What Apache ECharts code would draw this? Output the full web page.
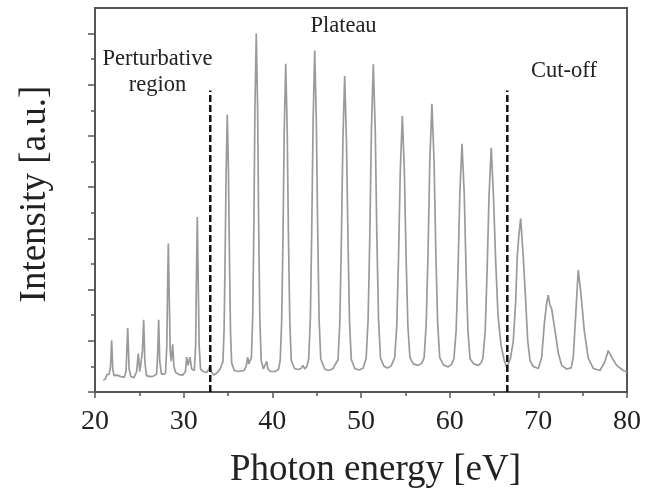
<!DOCTYPE html>
<html>
<head>
<meta charset="utf-8">
<script src="https://cdn.jsdelivr.net/npm/echarts@6/dist/echarts.min.js"></script>
<style>
html,body{margin:0;padding:0;background:#fff;}
#chart{width:646px;height:497px;}
</style>
</head>
<body>
<div id="chart"></div>
<script>
// Photon energy [eV] sampled along the trace
var energy = [
20.94,21.2,21.35,21.6,21.75,21.88,22.0,22.15,22.5,22.9,23.3,23.5,23.69,23.85,24.05,24.4,24.7,24.88,25.05,25.2,25.35,25.49,25.62,25.8,26.2,26.6,26.95,27.08,27.18,27.3,27.5,27.95,28.1,28.2,28.27,28.35,28.48,28.6,28.76,28.9,29.1,29.5,29.9,30.2,30.34,30.5,30.71,30.9,31.2,31.35,31.45,31.54,31.63,31.75,31.9,32.2,32.6,32.85,32.95,33.1,33.4,33.8,34.1,
34.43,34.56,34.67,34.79,34.92,35.05,35.17,35.28,35.41,35.7,36.2,36.8,37.05,37.22,37.35,
37.64,37.79,37.92,38.04,38.19,38.34,38.46,38.59,38.74,39.0,39.2,39.36,39.5,39.8,40.3,40.7,
40.89,41.05,41.20,41.34,41.51,41.68,41.82,41.97,42.13,42.5,42.9,43.25,43.45,43.65,43.9,
44.10,44.29,44.44,44.60,44.78,44.96,45.12,45.27,45.46,45.9,46.3,46.8,
47.41,47.61,47.78,47.96,48.16,48.36,48.54,48.71,48.91,49.3,49.8,50.25,
50.58,50.80,50.99,51.17,51.39,51.61,51.79,51.98,52.20,52.6,53.0,53.4,
53.80,54.03,54.23,54.43,54.66,54.89,55.09,55.29,55.52,55.9,56.45,56.85,
57.12,57.35,57.56,57.76,58.0,58.24,58.44,58.65,58.88,59.3,59.85,60.2,
60.48,60.73,60.94,61.15,61.39,61.64,61.85,62.06,62.30,62.7,63.23,63.55,
63.75,64.01,64.22,64.44,64.69,64.94,65.18,65.45,65.8,66.15,66.45,
66.85,67.18,67.45,67.62,67.8,68.01,68.3,68.57,68.8,69.06,69.4,70.0,
70.38,70.68,70.95,71.12,71.3,71.5,71.88,72.25,72.63,73.2,73.7,
73.94,74.2,74.5,74.8,75.18,75.63,76.2,76.95,77.5,77.89,78.27,78.84,79.58,80.0
];
// Intensity [a.u.] at each sampled energy
var intensity = [
0.23,0.26,0.34,0.35,0.5,1.01,0.45,0.32,0.33,0.30,0.29,0.4,1.25,0.45,0.3,0.28,0.4,0.75,0.4,0.42,0.8,1.41,0.6,0.32,0.30,0.31,0.35,0.8,1.41,0.6,0.35,0.36,0.9,2.2,2.90,2.1,0.8,0.6,0.93,0.5,0.38,0.34,0.33,0.4,0.68,0.52,0.68,0.45,0.42,0.9,2.4,3.42,2.3,0.9,0.45,0.40,0.38,0.45,0.52,0.40,0.33,0.38,0.45,
0.59,1.22,2.57,4.32,5.42,4.30,2.55,1.20,0.57,0.42,0.40,0.42,0.50,0.68,0.55,
0.67,1.50,3.28,5.58,7.0,5.53,3.23,1.45,0.62,0.45,0.48,0.60,0.45,0.40,0.40,0.44,
0.62,1.38,3.00,5.09,6.41,5.09,3.00,1.38,0.62,0.46,0.44,0.46,0.52,0.45,0.50,
0.65,1.44,3.12,5.30,6.67,5.30,3.12,1.44,0.65,0.45,0.42,0.45,
0.63,1.35,2.90,4.91,6.17,4.91,2.90,1.35,0.63,0.46,0.43,0.47,
0.66,1.41,3.01,5.09,6.40,5.09,3.01,1.41,0.66,0.50,0.47,0.51,
0.67,1.28,2.60,4.31,5.39,4.31,2.60,1.28,0.67,0.55,0.52,0.56,
0.67,1.32,2.71,4.50,5.63,4.50,2.71,1.32,0.67,0.53,0.49,0.54,
0.65,1.20,2.37,3.89,4.85,3.89,2.37,1.20,0.65,0.55,0.52,0.57,
0.66,1.20,2.35,3.84,4.77,3.82,2.60,1.50,0.90,0.62,0.48,
0.65,1.00,1.79,2.64,3.05,3.39,2.64,1.79,1.01,0.62,0.50,0.46,
0.68,1.34,1.75,1.89,1.70,1.63,1.20,0.76,0.52,0.45,0.47,
0.68,1.46,2.38,1.93,1.20,0.66,0.46,0.42,0.59,0.81,0.68,0.52,0.42,0.39
];
// Region boundaries (dashed lines)
var boundaryEnergies = [33.0, 66.5];
var boundaryHeight = 5.89;
// Axis ticks
var xTickValues = [20, 30, 40, 50, 60, 70, 80];
var yMajorTicks = [0, 1, 2, 3, 4, 5, 6, 7];
var yMinorTicks = [0.5, 1.5, 2.5, 3.5, 4.5, 5.5, 6.5];
// Annotations
var regionLabels = ['Perturbative\nregion', 'Plateau', 'Cut-off'];
var xTitle = 'Photon energy [eV]';
var yTitle = 'Intensity [a.u.]';

var serif = '"Liberation Serif", "Times New Roman", serif';
var frameColor = '#555';

var spectrum = energy.map(function (e, i) { return [e, intensity[i]]; });

var series = [{
  type: 'line',
  data: spectrum,
  showSymbol: false,
  symbol: 'none',
  smooth: false,
  lineStyle: { color: '#9a9a9a', width: 1.7 },
  z: 2,
  silent: true
}];
boundaryEnergies.forEach(function (e) {
  series.push({
    type: 'line',
    data: [[e, 0], [e, boundaryHeight]],
    symbol: 'none',
    lineStyle: { color: '#111', width: 2.5, type: [7, 3] },
    z: 3,
    silent: true
  });
});

var chart = echarts.init(document.getElementById('chart'), null, { renderer: 'canvas' });
chart.setOption({
  animation: false,
  backgroundColor: '#fff',
  grid: {
    left: 95, right: 19, top: 8, bottom: 105,
    show: true, borderColor: frameColor, borderWidth: 2, backgroundColor: 'transparent'
  },
  xAxis: {
    type: 'value',
    min: xTickValues[0],
    max: xTickValues[xTickValues.length - 1],
    interval: 10,
    axisLine: { show: true, onZero: false, lineStyle: { color: frameColor, width: 2 } },
    axisTick: { show: true, inside: false, length: 6, lineStyle: { color: frameColor, width: 1.5 } },
    minorTick: { show: true, splitNumber: 2, length: 4, lineStyle: { color: frameColor, width: 1.5 } },
    splitLine: { show: false },
    axisLabel: { show: true, margin: 16, color: '#222', fontSize: 28, fontFamily: serif },
    name: xTitle,
    nameLocation: 'middle',
    nameGap: 60,
    nameTextStyle: { color: '#222', fontSize: 37, fontFamily: serif, padding: [0, 0, 0, 29] }
  },
  yAxis: [{
    type: 'value',
    min: 0, max: 7.5,
    position: 'left',
    axisLine: { show: true, onZero: false, lineStyle: { color: frameColor, width: 2 } },
    axisTick: { show: true, inside: false, length: 7, customValues: yMajorTicks, lineStyle: { color: frameColor, width: 1.5 } },
    axisLabel: { show: false },
    splitLine: { show: false },
    name: yTitle,
    nameLocation: 'middle',
    nameGap: 41,
    nameTextStyle: { color: '#222', fontSize: 37, fontFamily: serif, padding: [0, 0, 0, 12] }
  }, {
    type: 'value',
    min: 0, max: 7.5,
    position: 'left',
    axisLine: { show: false },
    axisTick: { show: true, inside: false, length: 4, customValues: yMinorTicks, lineStyle: { color: frameColor, width: 1.5 } },
    axisLabel: { show: false },
    splitLine: { show: false }
  }],
  series: series,
  graphic: [
    { type: 'text', x: 157.5, y: 45.6, z: 10,
      style: { text: regionLabels[0], font: '22.5px ' + serif, fill: '#222', align: 'center', verticalAlign: 'top', lineHeight: 26 } },
    { type: 'text', x: 343.5, y: 14.6, z: 10,
      style: { text: regionLabels[1], font: '22.5px ' + serif, fill: '#222', align: 'center', verticalAlign: 'top' } },
    { type: 'text', x: 564, y: 60, z: 10,
      style: { text: regionLabels[2], font: '22.5px ' + serif, fill: '#222', align: 'center', verticalAlign: 'top' } }
  ]
});
</script>
</body>
</html>
